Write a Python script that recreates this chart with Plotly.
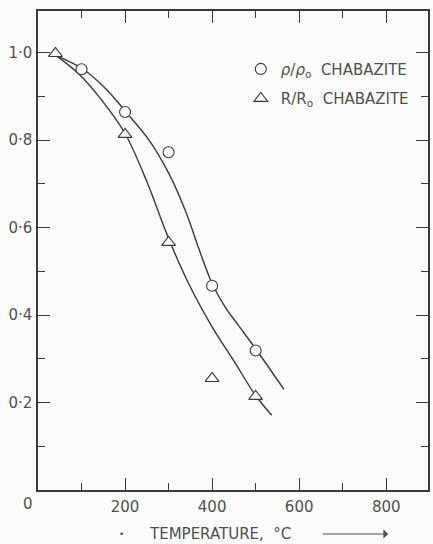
import plotly.graph_objects as go

# Measured points
rho_x = [100, 200, 300, 400, 500]
rho_y = [0.962, 0.864, 0.772, 0.467, 0.319]
r_x = [40, 200, 300, 400, 500]
r_y = [0.998, 0.813, 0.566, 0.255, 0.214]

# Hand-drawn smooth curves
rho_curve_x = [42, 102, 155, 204, 255, 300, 340, 369, 400, 430, 460, 502, 565]
rho_curve_y = [0.993, 0.963, 0.918, 0.862, 0.800, 0.725, 0.635, 0.553, 0.472, 0.418, 0.377, 0.320, 0.230]
r_curve_x = [42, 95, 145, 200, 250, 300, 350, 400, 450, 500, 537]
r_curve_y = [0.993, 0.950, 0.893, 0.815, 0.705, 0.575, 0.464, 0.373, 0.295, 0.216, 0.171]

x_ticks = [200, 400, 600, 800]
y_ticks = [0.2, 0.4, 0.6, 0.8, 1.0]
y_tick_text = ["0·2", "0·4", "0·6", "0·8", "1·0"]

INK = "#3a3a3a"
TXT = "#505050"
FONT = "DejaVu Sans"
BG = "#fbfbf9"

fig = go.Figure()
for cx, cy in [(rho_curve_x, rho_curve_y), (r_curve_x, r_curve_y)]:
    fig.add_trace(go.Scatter(x=cx, y=cy, mode="lines",
                             line=dict(color=INK, width=1.4, shape="spline", smoothing=1.0),
                             showlegend=False, hoverinfo="skip"))
fig.add_trace(go.Scatter(x=rho_x, y=rho_y, mode="markers", legendgroup="a",
                         name="<i>ρ</i>/<i>ρ</i><sub>o</sub>  CHABAZITE",
                         marker=dict(symbol="circle", size=11, color=BG,
                                     line=dict(color=INK, width=1.1))))
fig.add_trace(go.Scatter(x=r_x, y=r_y, mode="markers", legendgroup="b",
                         name="R/R<sub>o</sub>  CHABAZITE",
                         marker=dict(symbol="triangle-up", size=12, color=BG,
                                     line=dict(color=INK, width=1.1))))

axis_common = dict(showgrid=False, zeroline=False, showline=True, linecolor=INK,
                   linewidth=1.5, mirror="ticks", ticks="inside", tickcolor=INK,
                   tickwidth=1.2, ticklen=12,
                   tickfont=dict(family=FONT, size=15, color=TXT))

fig.update_xaxes(range=[0, 896], tickvals=x_ticks, ticktext=[str(v) for v in x_ticks],
                 minor=dict(ticks="inside", ticklen=7, tickvals=[100, 300, 500, 700],
                            tickcolor=INK, tickwidth=1.2),
                 ticklabelstandoff=2, **axis_common)
fig.update_yaxes(range=[0, 1.095], tickvals=y_ticks, ticktext=y_tick_text,
                 minor=dict(ticks="inside", ticklen=7, tickvals=[0.1, 0.3, 0.5, 0.7, 0.9],
                            tickcolor=INK, tickwidth=1.2),
                 ticklabelstandoff=1, **axis_common)

fig.update_layout(
    width=433, height=544,
    margin=dict(l=38, r=3, t=11, b=54),
    paper_bgcolor=BG, plot_bgcolor=BG,
    font=dict(family=FONT, size=15, color=TXT),
    legend=dict(x=0.52, y=0.913, xanchor="left", yanchor="top",
                bgcolor="rgba(0,0,0,0)", font=dict(family=FONT, size=15, color=TXT),
                itemwidth=30, tracegroupgap=7),
    annotations=[
        dict(x=0, y=0, xref="x", yref="paper", text="0", showarrow=False,
             xanchor="center", yanchor="middle",
             xshift=-10, yshift=-14, font=dict(family=FONT, size=15, color=TXT)),
        dict(x=(117 - 38) / 392, y=-44 / 479, xref="paper", yref="paper", text="•",
             showarrow=False, yanchor="middle",
             font=dict(family=FONT, size=9, color=TXT)),
        dict(x=(148 - 38) / 392, y=-44 / 479, xref="paper", yref="paper",
             text="TEMPERATURE,  °C", xanchor="left", yanchor="middle", showarrow=False,
             font=dict(family=FONT, size=15, color=TXT)),
        dict(x=(390 - 38) / 392, y=-44 / 479, xref="paper", yref="paper", text="",
             showarrow=True, ax=-67, ay=0, arrowhead=1, arrowsize=1.6, arrowwidth=1,
             arrowcolor=TXT),
    ],
)

fig.write_html("out.html")
